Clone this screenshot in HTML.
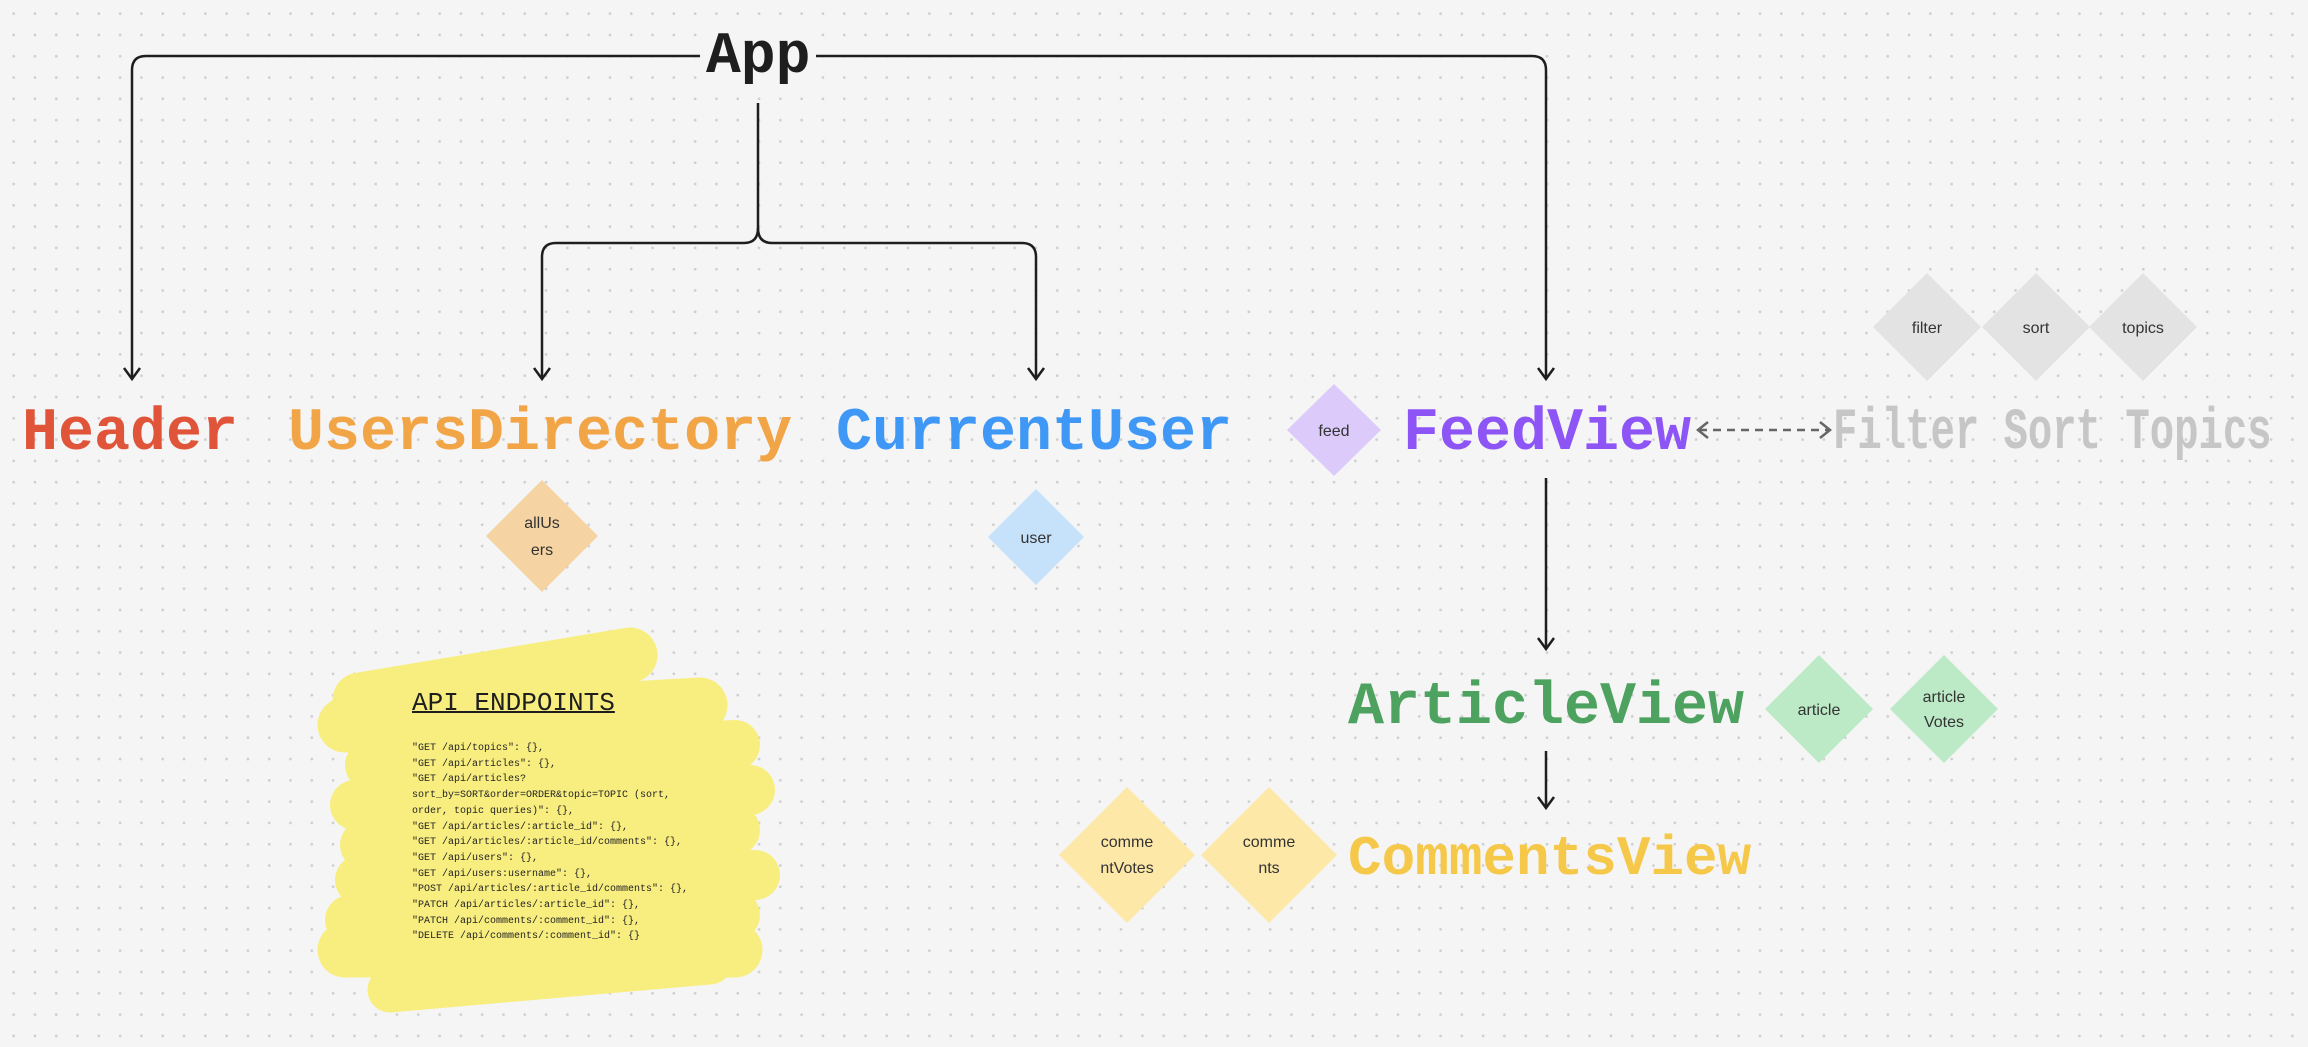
<!DOCTYPE html>
<html><head><meta charset="utf-8"><style>
html,body{margin:0;padding:0}
body{width:2308px;height:1047px;overflow:hidden;position:relative;background:#f5f5f5;background-image:radial-gradient(circle,#cfcfcf 1.2px,transparent 1.6px);background-size:21.3px 21.3px;background-position:3px 3px;font-family:"Liberation Mono",monospace}
.t{position:absolute;font-family:"Liberation Mono",monospace;font-weight:bold;font-size:60px;line-height:60px;white-space:nowrap}
</style></head><body>
<svg width="2308" height="1047" style="position:absolute;left:0;top:0">
<g stroke="#f8ee80" stroke-linecap="round" fill="none">
<path d="M360 700 L630 655" stroke-width="55"/>
<path d="M345 725 L700 705" stroke-width="55"/>
<path d="M370 765 L735 745" stroke-width="50"/>
<path d="M355 805 L750 790" stroke-width="50"/>
<path d="M365 845 L735 830" stroke-width="50"/>
<path d="M360 880 L755 875" stroke-width="50"/>
<path d="M350 920 L735 915" stroke-width="50"/>
<path d="M345 950 L735 950" stroke-width="55"/>
<path d="M390 990 L710 962" stroke-width="45"/>
</g>
<g stroke="#1e1e1e" stroke-width="2.5" fill="none">
<path d="M700 56 L146 56 Q132 56 132 70 L132 378"/>
<path d="M815 56 L1532 56 Q1546 56 1546 70 L1546 378"/>
<path d="M758 103 L758 228 Q758 243 772 243 L1022 243 Q1036 243 1036 257 L1036 378"/>
<path d="M758 228 Q758 243 744 243 L556 243 Q542 243 542 257 L542 378"/>
<path d="M1546 478 L1546 648"/>
<path d="M1546 751 L1546 806"/>
<path d="M124 368 L132 379 L140 368 M534 368 L542 379 L550 368 M1028 368 L1036 379 L1044 368 M1538 368 L1546 379 L1554 368 M1538 638 L1546 649 L1554 638 M1538 797 L1546 808 L1554 797"/>
</g>
<g stroke="#666" stroke-width="2.5" fill="none">
<path d="M1699 430 L1829 430" stroke-dasharray="8 6"/>
<path d="M1708 422 L1698 430 L1708 438 M1820 422 L1830 430 L1820 438"/>
</g>
<g font-family="Liberation Sans, sans-serif" font-size="16" fill="#333" text-anchor="middle">
<polygon points="1334,384 1381,430 1334,476 1287,430" fill="#dccbfa"/><text x="1334" y="436">feed</text>
<polygon points="542,480 598,536 542,592 486,536" fill="#f6d3a3"/><text x="542" y="528">allUs</text><text x="542" y="555">ers</text>
<polygon points="1036,489 1084,537 1036,585 988,537" fill="#c6e2fb"/><text x="1036" y="543">user</text>
<polygon points="1927,273 1981,327 1927,381 1873,327" fill="#e3e3e3"/><text x="1927" y="333">filter</text>
<polygon points="2036,273 2090,327 2036,381 1982,327" fill="#e3e3e3"/><text x="2036" y="333">sort</text>
<polygon points="2143,273 2197,327 2143,381 2089,327" fill="#e3e3e3"/><text x="2143" y="333">topics</text>
<polygon points="1819,655 1873,709 1819,763 1765,709" fill="#bdeac6"/><text x="1819" y="715">article</text>
<polygon points="1944,655 1998,709 1944,763 1890,709" fill="#bdeac6"/><text x="1944" y="702">article</text><text x="1944" y="727">Votes</text>
<polygon points="1127,787 1195,855 1127,923 1059,855" fill="#fde8a8"/><text x="1127" y="847">comme</text><text x="1127" y="873">ntVotes</text>
<polygon points="1269,787 1337,855 1269,923 1201,855" fill="#fde8a8"/><text x="1269" y="847">comme</text><text x="1269" y="873">nts</text>
</g>
</svg>
<div class="t" style="left:700px;top:28px;font-size:58px;color:#1e1e1e;background:#f5f5f5;padding:0 6px">App</div>
<div class="t" style="left:22px;top:404px;color:#e0553a">Header</div>
<div class="t" style="left:288px;top:404px;color:#f2a547">UsersDirectory</div>
<div class="t" style="left:836px;top:404px;color:#3f98f5">CurrentUser</div>
<div class="t" style="left:1403px;top:404px;color:#8d55f5">FeedView</div>
<div class="t" style="left:1833px;top:404px;color:#c6c6c6;font-size:58px;transform:scaleX(0.7);transform-origin:0 0">Filter Sort Topics</div>
<div class="t" style="left:1348px;top:678px;color:#4ea25f">ArticleView</div>
<div class="t" style="left:1348px;top:829px;color:#f6c84a;font-size:56px">CommentsView</div>
<div style="position:absolute;left:412px;top:688px;font-family:'Liberation Mono',monospace;font-size:26px;color:#1e1e1e;text-decoration:underline;text-decoration-thickness:2px">API ENDPOINTS</div>
<div style="position:absolute;left:412px;top:741px;font-family:'Liberation Mono',monospace;font-size:10px;line-height:15.7px;color:#222;white-space:pre">"GET /api/topics": {},
"GET /api/articles": {},
"GET /api/articles?
sort_by=SORT&amp;order=ORDER&amp;topic=TOPIC (sort,
order, topic queries)": {},
"GET /api/articles/:article_id": {},
"GET /api/articles/:article_id/comments": {},
"GET /api/users": {},
"GET /api/users:username": {},
"POST /api/articles/:article_id/comments": {},
"PATCH /api/articles/:article_id": {},
"PATCH /api/comments/:comment_id": {},
"DELETE /api/comments/:comment_id": {}</div>
</body></html>
